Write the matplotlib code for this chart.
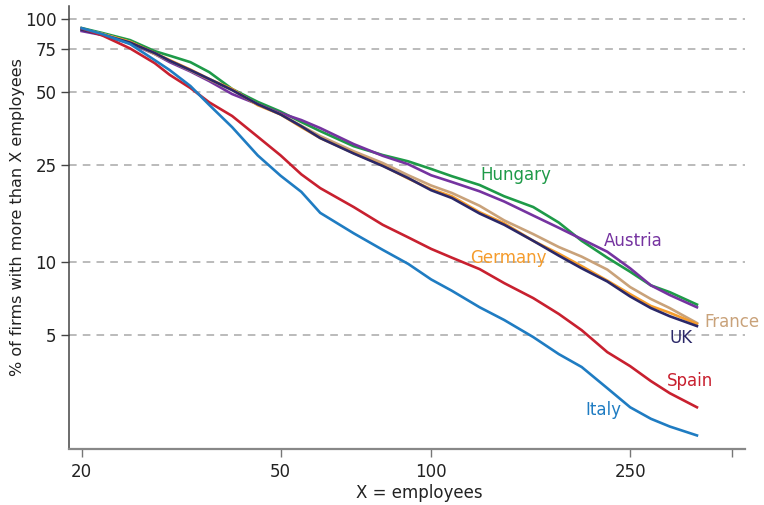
import numpy as np
import matplotlib
matplotlib.use("Agg")
import matplotlib.pyplot as plt
from matplotlib.ticker import FixedLocator, NullLocator, FixedFormatter

# employees (x) and share of firms (%) with more than X employees
employees = [20, 22, 25, 28, 30, 33, 36, 40, 45, 50, 55, 60, 70, 80, 90, 100,
             110, 125, 140, 160, 180, 200, 225, 250, 275, 300, 340]

hungary = [91.6, 87.4, 81.7, 73.6, 70.5, 66.3, 60.3, 51.4, 45.5, 41.5, 37.6, 34.5,
           29.9, 27.5, 25.9, 24.1, 22.5, 20.7, 18.6, 16.8, 14.5, 12.2, 10.4, 9.1,
           8.0, 7.5, 6.67]
austria = [89.0, 85.7, 79.2, 71.6, 66.3, 60.7, 55.4, 49.0, 44.5, 40.9, 38.3, 35.5,
           30.5, 27.3, 25.2, 22.7, 21.3, 19.5, 17.7, 15.5, 13.8, 12.4, 11.0, 9.4,
           8.0, 7.3, 6.5]
germany = [90.7, 86.6, 80.4, 72.3, 67.6, 61.8, 56.5, 51.4, 44.1, 40.4, 35.8, 32.3,
           28.0, 24.9, 22.0, 19.9, 18.6, 16.0, 14.4, 12.2, 10.8, 9.6, 8.37, 7.36,
           6.58, 6.17, 5.55]
uk = [90.2, 86.0, 79.8, 72.3, 67.2, 61.5, 56.5, 50.9, 44.5, 40.4, 36.1, 32.3,
      27.9, 24.8, 22.1, 19.7, 18.3, 15.8, 14.2, 12.2, 10.6, 9.4, 8.3, 7.2,
      6.45, 5.97, 5.44]
france = [90.7, 86.6, 80.2, 71.6, 67.2, 61.2, 56.2, 50.9, 44.5, 40.4, 36.3, 32.9,
          28.5, 25.5, 22.7, 20.6, 19.2, 17.0, 14.8, 13.0, 11.5, 10.5, 9.29, 7.87,
          7.03, 6.45, 5.6]
spain = [91.3, 85.4, 75.5, 65.7, 58.8, 51.9, 45.3, 39.8, 32.7, 27.4, 22.9, 20.1,
         16.8, 14.2, 12.6, 11.3, 10.4, 9.33, 8.17, 7.09, 6.1, 5.23, 4.25, 3.72,
         3.23, 2.88, 2.52]
italy = [91.5, 86.5, 78.7, 67.6, 61.5, 52.9, 44.2, 35.8, 27.4, 22.6, 19.4, 15.9,
         13.1, 11.2, 9.8, 8.46, 7.6, 6.5, 5.76, 4.9, 4.17, 3.69, 3.02, 2.52,
         2.26, 2.10, 1.93]

xticks = [20, 50, 100, 250, 400]
xticklabels = ["20", "50", "100", "250", ""]
yticks = [5, 10, 25, 50, 75, 100]

series = [
    ("Hungary", hungary, "#1e9a48"),
    ("Austria", austria, "#7533a0"),
    ("France", france, "#c9a27a"),
    ("Germany", germany, "#f59c2c"),
    ("UK", uk, "#2b2868"),
    ("Spain", spain, "#c8202f"),
    ("Italy", italy, "#1f7cc2"),
]

# label positions (data coords)
labels = {
    "Hungary": (148, 22.7, "center"),
    "Austria": (253, 12.2, "center"),
    "Germany": (143, 10.4, "center"),
    "France": (352, 5.65, "left"),
    "UK": (316, 4.86, "center"),
    "Spain": (329, 3.23, "center"),
    "Italy": (221, 2.45, "center"),
}

fig = plt.figure(figsize=(7.64, 5.05), dpi=100)
ax = fig.add_axes([0.0903, 0.110, 0.975 - 0.0903, 0.988 - 0.110])
ax.set_xscale("log")
ax.set_yscale("log")

for name, vals, col in series:
    ax.plot(employees, vals, color=col, lw=1.9, solid_joinstyle="round")
    lx, ly, ha = labels[name]
    ax.text(lx, ly, name, color=col, fontsize=12, ha=ha, va="center")

for y in yticks:
    ax.axhline(y, color="#a8a8a8", lw=1.1, ls=(0, (5, 4)), zorder=0)

ax.set_xlim(18.87, 424)
ax.set_ylim(1.69, 112.8)

ax.xaxis.set_major_locator(FixedLocator(xticks))
ax.xaxis.set_major_formatter(FixedFormatter(xticklabels))
ax.xaxis.set_minor_locator(NullLocator())
ax.yaxis.set_major_locator(FixedLocator(yticks))
ax.yaxis.set_major_formatter(FixedFormatter([str(v) for v in yticks]))
ax.yaxis.set_minor_locator(NullLocator())

ax.tick_params(axis="x", length=6, width=1, color="#777777", pad=4,
               labelsize=12, labelcolor="#222222")
ax.tick_params(axis="y", length=6, width=1, color="#444444", pad=3,
               labelsize=12, labelcolor="#222222")

for s in ["top", "right"]:
    ax.spines[s].set_visible(False)
ax.spines["left"].set_color("#444444")
ax.spines["bottom"].set_color("#888888")
ax.spines["left"].set_linewidth(1.1)
ax.spines["bottom"].set_linewidth(1.6)

ax.set_xlabel("X = employees", fontsize=12, color="#222222")
ax.set_ylabel("% of firms with more than X employees", fontsize=11.5, color="#222222")
ax.xaxis.set_label_coords(0.518, -0.078)
ax.yaxis.set_label_coords(-0.065, 0.524)

fig.savefig("out.png", dpi=100)
